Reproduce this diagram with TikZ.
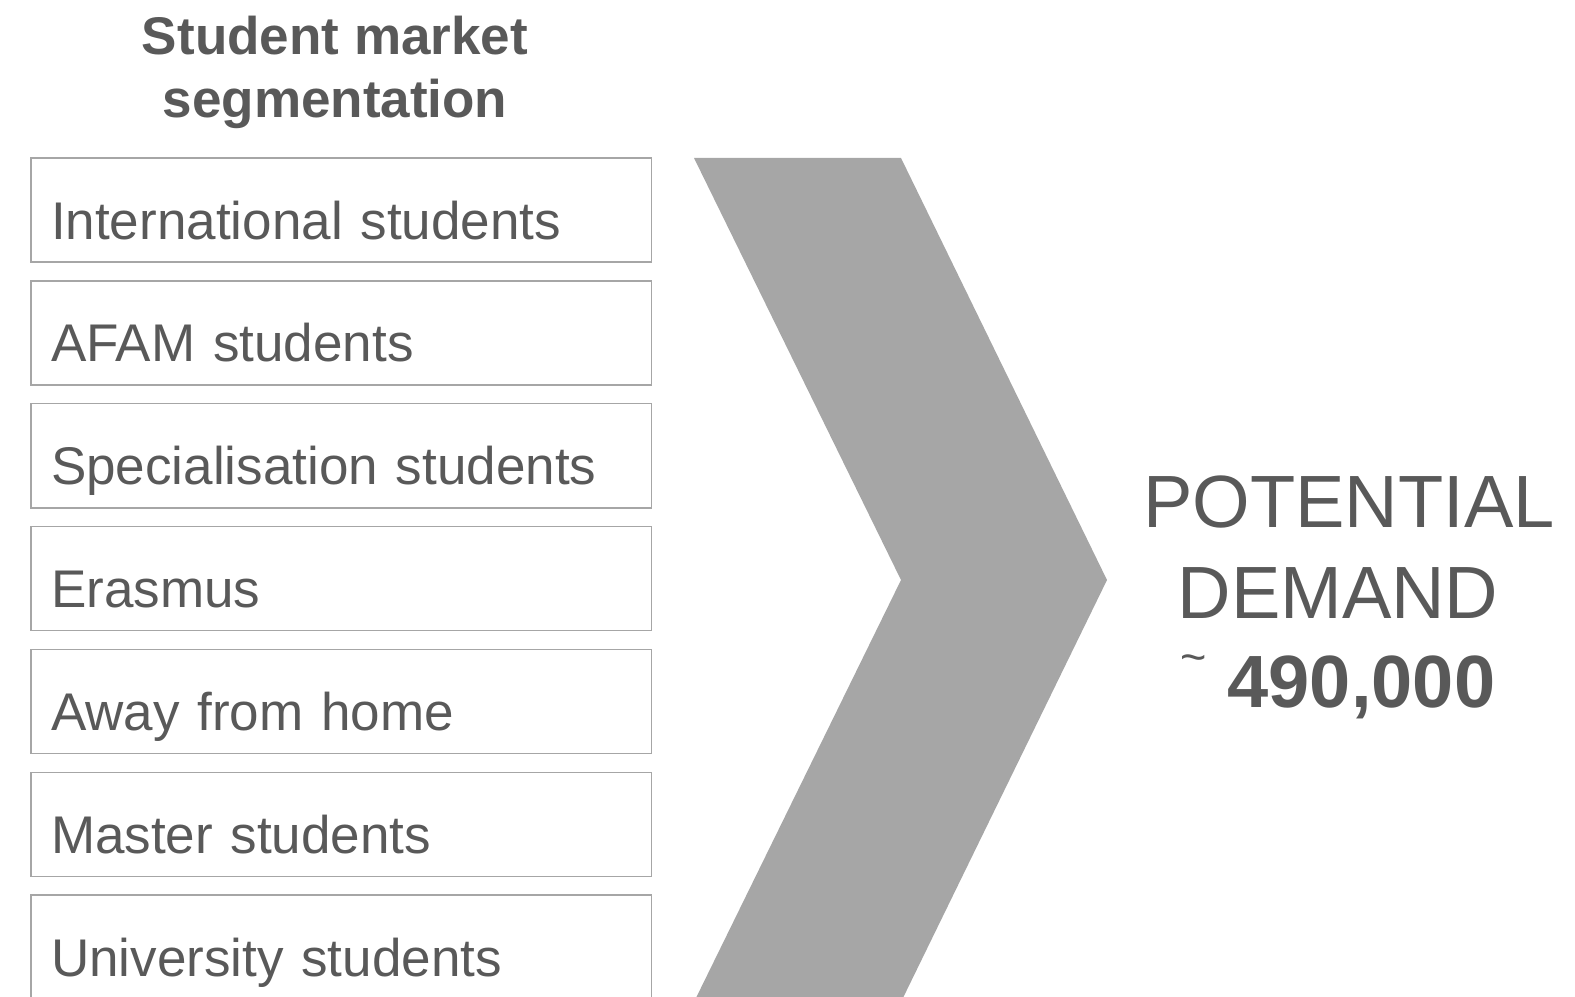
\documentclass[tikz,border=0pt]{standalone}
\usepackage{fontspec}
\setmainfont{Liberation Sans}
\usetikzlibrary{positioning}
\definecolor{txtgray}{HTML}{595959}
\definecolor{linegray}{HTML}{A6A6A6}
\definecolor{chevgray}{HTML}{A6A6A6}

\begin{document}
\begin{tikzpicture}[x=0.01cm, y=-0.01cm, text=txtgray]
\tikzset{seg/.style={draw=linegray, line width=0.015cm, anchor=north west, outer sep=0pt, inner ysep=0pt, inner xsep=0.2cm, text height=0.81cm, text depth=0.23cm, text width=5.8cm, align=left, font=\fontsize{0.53cm}{0.64cm}\selectfont}, big/.style={anchor=base, inner sep=0pt, font=\fontsize{0.74cm}{0.9cm}\selectfont}}
\useasboundingbox (0,0) rectangle (1575,997);
\node[anchor=north, inner sep=0pt, align=center, font=\fontsize{0.53cm}{0.63cm}\selectfont\bfseries] (title) at (335,15) {Student market\\segmentation};
\node[seg] (s1) at (31,158) {International students};
\node[seg, below=0.188cm of s1] (s2) {AFAM students};
\node[seg, below=0.188cm of s2] (s3) {Specialisation students};
\node[seg, below=0.188cm of s3] (s4) {Erasmus};
\node[seg, below=0.188cm of s4] (s5) {Away from home};
\node[seg, below=0.188cm of s5] (s6) {Master students};
\node[seg, below=0.188cm of s6] (s7) {University students};
% chevron
\fill[chevgray] (694,158) -- (901,158) -- (1107,580) -- (901,1002) -- (694,1002) -- (901,580) -- cycle;
\node[big] (pot) at (1349,527) {POTENTIAL};
\node[big] (dem) at (1338,618) {DEMAND};
\node[big] (num) at (1338,707) {\raisebox{0.34cm}{\fontsize{0.45cm}{0.45cm}\mdseries\selectfont\textasciitilde} \bfseries 490,000};
\end{tikzpicture}
\end{document}
